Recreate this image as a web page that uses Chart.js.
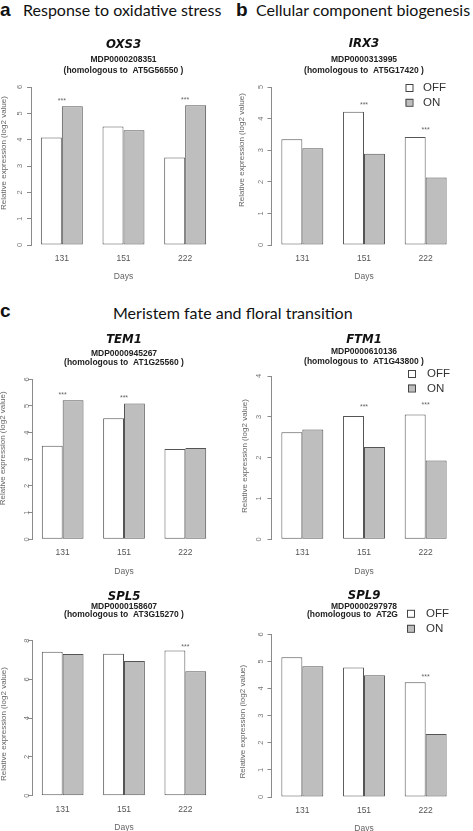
<!DOCTYPE html>
<html>
<head>
<meta charset="utf-8">
<script src="https://cdn.jsdelivr.net/npm/chart.js@4.4.1/dist/chart.umd.min.js"></script>
<style>
  html, body { margin: 0; padding: 0; background: #fff; }
  body { width: 473px; height: 831px; position: relative; overflow: hidden; }
  .panel { position: absolute; }
  .letter { position: absolute; font-family: "Liberation Sans", Arial, sans-serif; font-weight: bold; font-size: 19px; line-height: 19px; color: #111; }
  .heading { position: absolute; font-family: Lato, "Open Sans", sans-serif; font-size: 16px; line-height: 16px; color: #111; white-space: nowrap; }
</style>
</head>
<body>
<div class="letter" style="left:0px; top:0px;">a</div>
<div class="heading" style="left:23px; top:2px;">Response to oxidative stress</div>
<div class="letter" style="left:236px; top:0px;">b</div>
<div class="heading" style="left:256px; top:2px;">Cellular component biogenesis</div>
<div class="letter" style="left:0px; top:301px;">c</div>
<div class="heading" style="left:113px; top:305px;">Meristem fate and floral transition</div>

<div class="panel" id="wrap-a"><canvas id="chart-a"></canvas></div>
<div class="panel" id="wrap-b"><canvas id="chart-b"></canvas></div>
<div class="panel" id="wrap-c"><canvas id="chart-c"></canvas></div>
<div class="panel" id="wrap-d"><canvas id="chart-d"></canvas></div>
<div class="panel" id="wrap-e"><canvas id="chart-e"></canvas></div>
<div class="panel" id="wrap-f"><canvas id="chart-f"></canvas></div>

<script>
// Days sampled (x categories)
const DAYS = ["131", "151", "222"];
const SERIES = ["OFF", "ON"];

// Relative expression (log2 value)
const OXS3_OFF = [4.08, 4.50, 3.32];
const OXS3_ON  = [5.27, 4.36, 5.31];
const OXS3_SIG = [true, false, true];

const IRX3_OFF = [3.35, 4.22, 3.42];
const IRX3_ON  = [3.06, 2.89, 2.14];
const IRX3_SIG = [false, true, true];

const TEM1_OFF = [3.51, 4.54, 3.39];
const TEM1_ON  = [5.21, 5.09, 3.42];
const TEM1_SIG = [true, true, false];

const FTM1_OFF = [2.62, 3.02, 3.06];
const FTM1_ON  = [2.69, 2.26, 1.93];
const FTM1_SIG = [false, true, true];

const SPL5_OFF = [7.43, 7.33, 7.50];
const SPL5_ON  = [7.31, 6.95, 6.42];
const SPL5_SIG = [false, false, true];

const SPL9_OFF = [5.15, 4.78, 4.23];
const SPL9_ON  = [4.82, 4.49, 2.32];
const SPL9_SIG = [false, false, true];

const COLORS = {
    offFill:  "#ffffff",
    onFill:   "#bebebe",
    barEdge:  "#555555",
    axis:     "#8a8a8a",
    tickText: "#777777",
    axisText: "#666666",
    title:    "#111111",
    sub:      "#222222",
};

const PANELS = [
    { id: "a", gene: "OXS3", mdp: "MDP0000208351", hom: "(homologous to  AT5G56550 )",
      off: OXS3_OFF, on: OXS3_ON, sig: OXS3_SIG, yMax: 6, step: 1,
      box: { x: 0, y: 25, w: 236, h: 265 }, plot: { l: 31, t: 87, r: 216, b: 245 },
      titleY: [45, 60, 71], yTitle: { x: 4, y: 153 }, tickGap: 11 },
    { id: "b", gene: "IRX3", mdp: "MDP0000313995", hom: "(homologous to  AT5G17420 )",
      off: IRX3_OFF, on: IRX3_ON, sig: IRX3_SIG, yMax: 5, step: 1,
      box: { x: 236, y: 25, w: 237, h: 265 }, plot: { l: 271.5, t: 87, r: 456.5, b: 245 },
      titleY: [44, 60, 71], yTitle: { x: 5.8, y: 150 }, tickGap: 11,
      legend: { boxX: 405.5, textX: 423, ys: [87.5, 102.3] } },
    { id: "c", gene: "TEM1", mdp: "MDP0000945267", hom: "(homologous to  AT1G25560 )",
      off: TEM1_OFF, on: TEM1_ON, sig: TEM1_SIG, yMax: 6, step: 1,
      box: { x: 0, y: 325, w: 236, h: 255 }, plot: { l: 32, t: 379.3, r: 216, b: 539.3 },
      titleY: [340, 353.3, 362.3], yTitle: { x: 2.5, y: 448.3 }, tickGap: 5.5 },
    { id: "d", gene: "FTM1", mdp: "MDP0000610136", hom: "(homologous to  AT1G43800 )",
      off: FTM1_OFF, on: FTM1_ON, sig: FTM1_SIG, yMax: 4, step: 1,
      box: { x: 236, y: 325, w: 237, h: 255 }, plot: { l: 271.5, t: 376, r: 456.5, b: 539.3 },
      titleY: [340, 351.7, 361.7], yTitle: { x: 8.5, y: 456 }, tickGap: 13,
      legend: { boxX: 408, textX: 427, ys: [373.5, 388] } },
    { id: "e", gene: "SPL5", mdp: "MDP0000158607", hom: "(homologous to  AT3G15270 )",
      off: SPL5_OFF, on: SPL5_ON, sig: SPL5_SIG, yMax: 8, step: 2,
      box: { x: 0, y: 580, w: 236, h: 255 }, plot: { l: 32, t: 640.7, r: 216, b: 795.7 },
      titleY: [596.7, 606.7, 615], yTitle: { x: 3.3, y: 724 }, tickGap: 5.5 },
    { id: "f", gene: "SPL9", mdp: "MDP0000297978", hom: "(homologous to  AT2G",
      off: SPL9_OFF, on: SPL9_ON, sig: SPL9_SIG, yMax: 6, step: 1,
      box: { x: 236, y: 580, w: 237, h: 255 }, plot: { l: 271.5, t: 634.3, r: 456.5, b: 797 },
      titleY: [595.7, 606.7, 615], yTitle: { x: 6.3, y: 721.7 }, tickGap: 10.5, homLeft: 307,
      legend: { boxX: 407, textX: 426, ys: [613.3, 628.3] } },
];

const X_AXIS_H = 36;

// Draws the gene titles, rotated y labels, significance stars and legend
const panelDecor = {
    id: "panelDecor",
    afterDraw(chart, args, opts) {
        const p = opts.panel;
        const ctx = chart.ctx;
        const area = chart.chartArea;
        const yS = chart.scales.y;
        const xS = chart.scales.x;
        const oy = p.box.y, ox = p.box.x;
        const cx = (area.left + area.right) / 2;
        ctx.save();

        // gene name + ids
        ctx.textAlign = "center";
        ctx.textBaseline = "middle";
        ctx.fillStyle = COLORS.title;
        ctx.font = "italic bold 13px 'Liberation Sans Narrow', 'DejaVu Sans Condensed', Arial, sans-serif";
        ctx.fillText(p.gene, cx, p.titleY[0] - oy);
        ctx.fillStyle = COLORS.sub;
        ctx.font = "bold 8.5px 'Liberation Sans', Arial, sans-serif";
        ctx.fillText(p.mdp, cx, p.titleY[1] - oy);
        if (p.homLeft) {
            ctx.textAlign = "left";
            ctx.fillText(p.hom, p.homLeft - ox, p.titleY[2] - oy);
            ctx.textAlign = "center";
        } else {
            ctx.fillText(p.hom, cx, p.titleY[2] - oy);
        }

        // y tick labels, rotated like R's default
        ctx.fillStyle = COLORS.tickText;
        ctx.font = "7.5px 'Liberation Sans', Arial, sans-serif";
        yS.ticks.forEach(t => {
            const py = yS.getPixelForValue(t.value);
            ctx.save();
            ctx.translate(area.left - p.tickGap, py);
            ctx.rotate(-Math.PI / 2);
            ctx.fillText(String(t.value), 0, 0);
            ctx.restore();
        });

        // y axis title
        ctx.fillStyle = COLORS.axisText;
        ctx.font = "8px 'Liberation Sans', Arial, sans-serif";
        ctx.save();
        ctx.translate(p.yTitle.x, p.yTitle.y - oy);
        ctx.rotate(-Math.PI / 2);
        ctx.fillText("Relative expression (log2 value)", 0, 0);
        ctx.restore();

        // significance stars above the taller bar of a group
        ctx.fillStyle = "#666";
        ctx.font = "7px 'Liberation Sans', Arial, sans-serif";
        p.sig.forEach((s, i) => {
            if (!s) return;
            const top = Math.max(p.off[i], p.on[i]) + 0.28;
            ctx.fillText("***", xS.getPixelForValue(i), yS.getPixelForValue(top) + 2);
        });

        // legend
        if (p.legend) {
            ctx.textAlign = "left";
            ctx.font = "11.5px 'Liberation Sans', Arial, sans-serif";
            chart.data.datasets.forEach((ds, i) => {
                const ly = p.legend.ys[i] - oy;
                const bx = p.legend.boxX - ox;
                ctx.fillStyle = ds.backgroundColor;
                ctx.fillRect(bx, ly - 3.5, 7, 7);
                ctx.strokeStyle = "#444";
                ctx.lineWidth = 1;
                ctx.strokeRect(bx + 0.5, ly - 3.5 + 0.5, 7, 7);
                ctx.fillStyle = "#333";
                ctx.fillText(ds.label, p.legend.textX - ox, ly + 0.5);
            });
        }
        ctx.restore();
    }
};

function buildPanel(p) {
    const wrap = document.getElementById("wrap-" + p.id);
    wrap.style.left = p.box.x + "px";
    wrap.style.top = p.box.y + "px";
    wrap.style.width = p.box.w + "px";
    wrap.style.height = p.box.h + "px";

    const pad = {
        left: 0,
        top: p.plot.t - p.box.y,
        right: p.box.x + p.box.w - p.plot.r,
        bottom: p.box.y + p.box.h - p.plot.b - X_AXIS_H,
    };

    return new Chart(document.getElementById("chart-" + p.id), {
        type: "bar",
        data: {
            labels: DAYS,
            datasets: [
                { label: SERIES[0], data: p.off, backgroundColor: COLORS.offFill },
                { label: SERIES[1], data: p.on,  backgroundColor: COLORS.onFill },
            ],
        },
        options: {
            responsive: true,
            maintainAspectRatio: false,
            animation: false,
            layout: { padding: pad },
            datasets: {
                bar: {
                    borderColor: COLORS.barEdge,
                    borderWidth: 1,
                    borderSkipped: false,
                    categoryPercentage: 0.68,
                    barPercentage: 1,
                },
            },
            scales: {
                x: {
                    offset: true,
                    grid: { display: false, drawTicks: false, tickLength: 0 },
                    border: { display: false },
                    ticks: {
                        color: "#555",
                        padding: 8.4,
                        font: { family: "'Liberation Sans', Arial, sans-serif", size: 8.5 },
                    },
                    title: {
                        display: true,
                        text: "Days",
                        color: COLORS.axisText,
                        padding: { top: 0, bottom: -1 },
                        font: { family: "'Liberation Sans', Arial, sans-serif", size: 8.5 },
                    },
                    afterFit: s => { s.height = X_AXIS_H; },
                },
                y: {
                    min: 0,
                    max: p.yMax,
                    ticks: { display: false, stepSize: p.step },
                    grid: { display: true, drawOnChartArea: false, drawTicks: true, tickLength: 4, color: COLORS.axis },
                    border: { display: true, color: COLORS.axis },
                    afterFit: s => { s.width = p.plot.l - p.box.x; },
                },
            },
            plugins: {
                legend: { display: false },
                tooltip: { enabled: false },
                panelDecor: { panel: p },
            },
        },
        plugins: [panelDecor],
    });
}

PANELS.forEach(buildPanel);
</script>
</body>
</html>
